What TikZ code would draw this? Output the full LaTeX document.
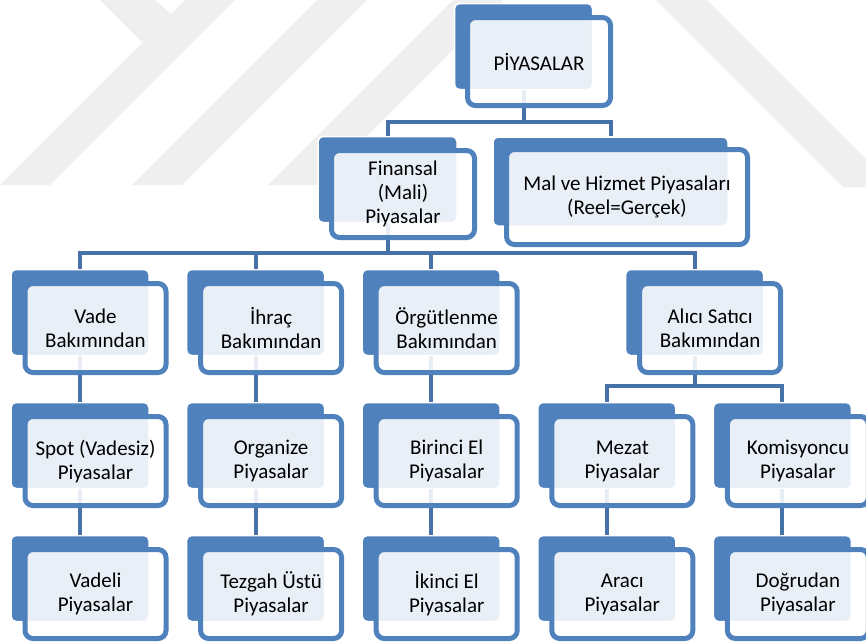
\documentclass[tikz,border=0pt]{standalone}
\usepackage{fontspec}
\setmainfont{Carlito}
\usetikzlibrary{positioning}

\definecolor{kutumavi}{HTML}{4F81BD}
\definecolor{hatmavi}{HTML}{4672A8}
\definecolor{filigran}{HTML}{EFEFEF}

\tikzset{
  back/.style = {fill=kutumavi, draw=white, line width=1.5pt, rounded corners=5pt,
                 minimum width=138pt, minimum height=86pt, inner sep=0pt},
  card/.style = {draw=kutumavi, line width=5pt, rounded corners=8pt, fill=white,
                 fill opacity=0.88, text opacity=1, minimum width=141pt, minimum height=89pt,
                 inner sep=0pt, align=center, font=\fontsize{21pt}{24pt}\selectfont},
  link/.style = {draw=hatmavi, line width=4pt},
}

\begin{document}
\begin{tikzpicture}[x=1pt, y=-1pt, node distance=175.6pt, on grid]
        \useasboundingbox (0,0) rectangle (866,641);
        % filigran
        \fill[filigran] (0,185) -- (50,185) -- (235,0) -- (185,0) -- cycle;
        \fill[filigran] (100,0) -- (155,0) -- (172,15) -- (143,43) -- cycle;
        \fill[filigran] (132,185) -- (182,185) -- (367,0) -- (317,0) -- cycle;
        \fill[filigran] (268,185) -- (318,185) -- (503,0) -- (453,0) -- cycle;
        \fill[filigran] (656,0) -- (707,0) -- (866,159) -- (866,187) -- (843,187) -- cycle;

        % arka kutular
        \node[back] (P) at (523.5,46.5) {};
        \node[back, minimum width=139pt] (F) at (387.5,179.5) {};
        \node[back, minimum width=235pt, minimum height=89pt] (M) at (610.5,181.5) {};
        \node[back] (V) at (80,312.5) {};
        \node[back] (I) [right=of V] {};
        \node[back] (O) [right=of I] {};
        \node[back] (A) at (694.6,312.5) {};
        \node[back] (S) [below=133pt of V] {};
        \node[back] (Or) [right=of S] {};
        \node[back] (B) [right=of Or] {};
        \node[back] (Me) [right=of B] {};
        \node[back] (K) [right=of Me] {};
        \node[back] (Vd) [below=133pt of S] {};
        \node[back] (T) [right=of Vd] {};
        \node[back] (Ik) [right=of T] {};
        \node[back] (Ar) [below=133pt of Me] {};
        \node[back] (D) [right=of Ar] {};

        % baglantilar
        \coordinate (p1) at (P |- 0,122);
        \draw[link] (P.south) -- (p1) -| (F.north);
        \draw[link] (p1) -| (M.north);

        \coordinate (f1) at (F |- 0,253);
        \draw[link] (F.south) -- (f1) -| (V.north);
        \draw[link] (f1) -| (I.north);
        \draw[link] (f1) -| (O.north);
        \draw[link] (f1) -| (A.north);

        \coordinate (a1) at (A |- 0,386);
        \draw[link] (A.south) -- (a1) -| (Me.north);
        \draw[link] (a1) -| (K.north);

        \draw[link] (V.south) -- (S.north);
        \draw[link] (I.south) -- (Or.north);
        \draw[link] (O.south) -- (B.north);
        \draw[link] (S.south) -- (Vd.north);
        \draw[link] (Or.south) -- (T.north);
        \draw[link] (B.south) -- (Ik.north);
        \draw[link] (Me.south) -- (Ar.north);
        \draw[link] (K.south) -- (D.north);

        % on kartlar
        \node[card, minimum width=143pt, minimum height=88pt] (Pk) [below right=15pt and 15.5pt of P] {PİYASALAR};
        \node[card, minimum width=143pt, minimum height=87pt] (Fk) [below right=14.5pt and 15.5pt of F] {Finansal\\(Mali)\\Piyasalar};
        \node[card, minimum width=241pt, minimum height=95pt] (Mk) [below right=15.5pt and 16.5pt of M] {Mal ve Hizmet Piyasaları\\(Reel=Gerçek)};
        \node[card] (Vk) [below right=15.5pt and 15.5pt of V] {Vade\\Bakımından};
        \node[card] (Ik2) [below right=15.5pt and 15.5pt of I] {İhraç\\Bakımından};
        \node[card] (Ok) [below right=15.5pt and 15.5pt of O] {Örgütlenme\\Bakımından};
        \node[card] (Ak) [below right=15.5pt and 15.5pt of A] {Alıcı Satıcı\\Bakımından};
        \node[card] (Sk) [below right=15.5pt and 15.5pt of S] {Spot (Vadesiz)\\Piyasalar};
        \node[card] (Ork) [below right=15.5pt and 15.5pt of Or] {Organize\\Piyasalar};
        \node[card] (Bk) [below right=15.5pt and 15.5pt of B] {Birinci El\\Piyasalar};
        \node[card] (Mek) [below right=15.5pt and 15.5pt of Me] {Mezat\\Piyasalar};
        \node[card] (Kk) [below right=15.5pt and 15.5pt of K] {Komisyoncu\\Piyasalar};
        \node[card] (Vdk) [below right=15.5pt and 15.5pt of Vd] {Vadeli\\Piyasalar};
        \node[card] (Tk) [below right=15.5pt and 15.5pt of T] {Tezgah Üstü\\Piyasalar};
        \node[card] (Ikk) [below right=15.5pt and 15.5pt of Ik] {İkinci El\\Piyasalar};
        \node[card] (Ark) [below right=15.5pt and 15.5pt of Ar] {Aracı\\Piyasalar};
        \node[card] (Dk) [below right=15.5pt and 15.5pt of D] {Doğrudan\\Piyasalar};
\end{tikzpicture}
\end{document}
